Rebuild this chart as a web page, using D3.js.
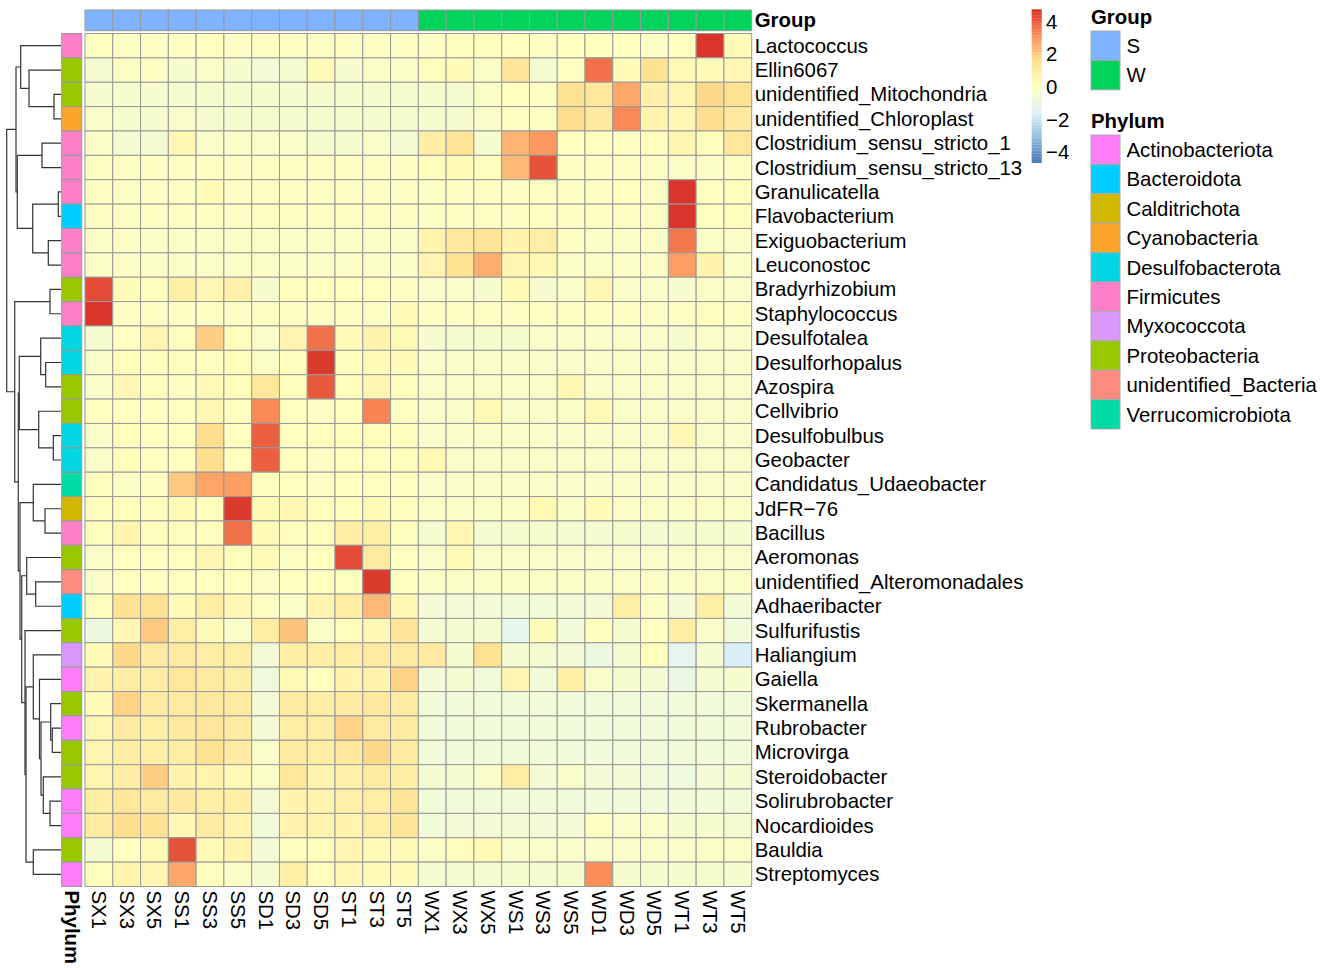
<!DOCTYPE html>
<html>
<head>
<meta charset="utf-8">
<script src="https://cdn.jsdelivr.net/npm/d3@7"></script>
<style>
  body { margin: 0; background: #fff; }
  text { font-family: "Liberation Sans", Arial, Helvetica, sans-serif; fill: #000; }
</style>
</head>
<body>
<div class="container"></div>
<script>
const WIDTH = 1325;
const HEIGHT = 968;
const HM_LEFT = 85;
const HM_RIGHT = 751.7;
const HM_TOP = 33.5;
const HM_BOTTOM = 886.5;
const FONT = 20.4;

var samples = ["SX1", "SX3", "SX5", "SS1", "SS3", "SS5", "SD1", "SD3", "SD5", "ST1", "ST3", "ST5",
    "WX1", "WX3", "WX5", "WS1", "WS3", "WS5", "WD1", "WD3", "WD5", "WT1", "WT3", "WT5"];
var groups = ["S", "S", "S", "S", "S", "S", "S", "S", "S", "S", "S", "S",
    "W", "W", "W", "W", "W", "W", "W", "W", "W", "W", "W", "W"];

var taxa = ["Lactococcus", "Ellin6067", "unidentified_Mitochondria", "unidentified_Chloroplast",
    "Clostridium_sensu_stricto_1", "Clostridium_sensu_stricto_13", "Granulicatella", "Flavobacterium",
    "Exiguobacterium", "Leuconostoc", "Bradyrhizobium", "Staphylococcus", "Desulfotalea",
    "Desulforhopalus", "Azospira", "Cellvibrio", "Desulfobulbus", "Geobacter",
    "Candidatus_Udaeobacter", "JdFR\u221276", "Bacillus", "Aeromonas", "unidentified_Alteromonadales",
    "Adhaeribacter", "Sulfurifustis", "Haliangium", "Gaiella", "Skermanella", "Rubrobacter",
    "Microvirga", "Steroidobacter", "Solirubrobacter", "Nocardioides", "Bauldia", "Streptomyces"];

var phyla = ["Firmicutes", "Proteobacteria", "Proteobacteria", "Cyanobacteria",
    "Firmicutes", "Firmicutes", "Firmicutes", "Bacteroidota",
    "Firmicutes", "Firmicutes", "Proteobacteria", "Firmicutes", "Desulfobacterota",
    "Desulfobacterota", "Proteobacteria", "Proteobacteria", "Desulfobacterota", "Desulfobacterota",
    "Verrucomicrobiota", "Calditrichota", "Firmicutes", "Proteobacteria", "unidentified_Bacteria",
    "Bacteroidota", "Proteobacteria", "Myxococcota", "Actinobacteriota", "Proteobacteria", "Actinobacteriota",
    "Proteobacteria", "Proteobacteria", "Actinobacteriota", "Actinobacteriota", "Proteobacteria", "Actinobacteriota"];

// row z-scores, columns in the order of samples
var values = [
    [0.0, -0.1, -0.1, -0.1, 0.0, -0.1, -0.1, -0.1, -0.1, -0.1, -0.1, -0.1, -0.1, 0.1, 0.1, 0.0, -0.1, 0.0, 0.0, 0.0, -0.1, 0.0, 4.6, 0.2],
    [-0.5, -0.1, -0.1, -0.4, -0.2, -0.4, -0.6, -0.5, 0.2, -0.4, -0.2, -0.2, 0.1, 0.2, -0.2, 1.3, -0.5, 0.0, 3.6, 0.2, 1.4, 0.3, 0.2, 0.4],
    [-0.4, -0.4, -0.4, -0.4, -0.4, -0.4, -0.4, -0.4, -0.4, -0.4, -0.4, -0.4, -0.4, -0.5, -0.2, 0.0, -0.1, 1.4, 1.2, 2.6, 0.7, 0.5, 1.7, 1.5],
    [-0.3, -0.4, -0.4, -0.3, -0.4, -0.4, -0.4, -0.4, -0.4, -0.4, -0.4, -0.4, -0.4, -0.4, -0.3, -0.1, -0.1, 1.6, 1.1, 3.2, 0.6, 0.4, 1.6, 1.1],
    [-0.2, -0.5, -0.5, 0.4, -0.3, -0.3, -0.3, -0.3, -0.4, -0.4, -0.3, -0.5, 0.9, 1.3, -0.4, 2.4, 2.9, 0.0, 0.0, -0.1, 0.1, 0.5, 0.1, 1.2],
    [-0.1, -0.1, -0.1, -0.1, -0.1, -0.1, -0.1, -0.1, -0.1, -0.1, -0.1, -0.1, 0.1, 0.2, 0.1, 2.3, 4.1, -0.1, -0.1, -0.1, -0.1, -0.2, -0.2, -0.1],
    [-0.1, -0.1, -0.1, -0.1, 0.2, -0.1, -0.1, -0.1, -0.1, -0.1, -0.1, -0.1, -0.1, -0.1, -0.1, -0.1, -0.1, -0.1, -0.1, 0.0, -0.1, 4.6, 0.0, 0.1],
    [-0.1, -0.1, -0.1, -0.1, -0.1, -0.1, -0.1, -0.1, -0.1, -0.1, -0.1, -0.1, -0.1, -0.1, -0.1, -0.1, -0.1, -0.1, -0.1, -0.1, -0.1, 4.6, 0.0, 0.1],
    [-0.2, -0.2, -0.2, -0.2, -0.2, -0.2, -0.2, -0.2, -0.2, -0.2, -0.2, -0.2, 0.6, 1.1, 1.3, 0.6, 0.9, -0.1, -0.2, -0.2, -0.2, 3.5, -0.2, -0.2],
    [-0.2, -0.2, -0.2, -0.2, -0.2, -0.2, -0.2, -0.2, -0.2, -0.2, -0.2, -0.2, 0.5, 1.5, 2.5, 0.5, 0.4, -0.2, -0.2, -0.2, -0.2, 2.8, 0.6, -0.2],
    [4.2, 0.2, 0.1, 0.8, 0.4, 0.7, -0.4, 0.1, 0.0, 0.0, 0.0, -0.1, -0.3, -0.3, -0.4, 0.3, -0.4, -0.3, 0.4, -0.3, -0.3, -0.4, -0.2, -0.3],
    [4.6, -0.1, -0.1, -0.1, -0.1, -0.1, -0.1, -0.1, -0.1, -0.1, -0.1, 0.2, -0.1, -0.1, -0.1, -0.1, -0.1, -0.1, -0.1, -0.1, -0.1, -0.1, 0.1, -0.1],
    [-0.4, 0.0, 0.5, 0.1, 1.9, 0.1, -0.3, 0.5, 3.6, 0.2, 0.6, 0.3, -0.4, -0.4, -0.4, -0.4, -0.3, -0.3, -0.3, -0.3, -0.3, -0.4, -0.3, -0.3],
    [-0.3, 0.1, 0.1, 0.1, 0.1, 0.1, -0.2, 0.1, 4.5, 0.1, 0.2, 0.2, -0.3, -0.3, -0.3, -0.3, -0.3, -0.3, -0.3, -0.3, -0.3, -0.3, -0.3, -0.3],
    [-0.3, 0.4, 0.1, -0.1, 0.3, 0.1, 1.2, 0.1, 4.0, 0.1, 0.5, 0.1, -0.3, -0.3, -0.3, -0.3, -0.3, 0.4, -0.3, -0.3, -0.3, -0.3, -0.3, -0.3],
    [0.0, 0.0, 0.0, 0.0, 0.4, 0.0, 3.2, 0.0, -0.1, 0.0, 3.3, 0.0, -0.3, -0.3, 0.3, -0.3, -0.3, -0.2, 0.3, -0.3, -0.3, -0.3, -0.3, -0.3],
    [-0.3, 0.1, 0.0, 0.0, 1.6, 0.0, 3.9, 0.0, 0.1, 0.1, 0.1, 0.1, -0.3, -0.3, -0.3, -0.3, -0.3, -0.3, -0.3, -0.3, -0.3, 0.4, -0.3, -0.3],
    [-0.3, 0.1, 0.0, 0.0, 1.6, 0.0, 3.9, 0.0, -0.1, 0.0, 0.0, 0.1, 0.3, -0.3, -0.3, -0.3, -0.3, -0.3, -0.3, -0.3, -0.3, -0.3, -0.3, -0.3],
    [0.1, -0.2, -0.1, 2.0, 2.7, 2.8, 0.1, 0.0, -0.1, 0.0, 0.0, 0.0, -0.3, -0.3, -0.3, -0.3, -0.3, -0.3, -0.3, -0.3, -0.3, -0.3, -0.3, -0.3],
    [0.1, 0.1, 0.1, 0.3, 0.1, 4.5, 0.2, 0.4, 0.1, 0.1, 0.2, 0.1, -0.2, -0.2, -0.2, -0.2, 0.3, -0.2, 0.2, -0.2, -0.2, -0.2, -0.2, -0.2],
    [0.1, 0.5, 0.1, 0.1, 0.1, 3.6, 0.2, 0.1, 0.1, 0.9, 0.8, 0.1, -0.5, 0.4, -0.5, -0.4, -0.4, -0.5, -0.5, -0.4, -0.5, -0.4, -0.4, -0.4],
    [-0.2, 0.0, 0.0, 0.0, 0.5, 0.1, 0.2, -0.1, 0.0, 4.2, 1.0, 0.0, -0.3, 0.3, -0.3, -0.3, -0.3, -0.3, -0.3, -0.3, -0.3, -0.3, -0.3, -0.3],
    [-0.3, 0.0, 0.0, 0.0, 0.0, 0.0, -0.2, 0.0, 0.0, 0.0, 4.5, 0.0, -0.2, -0.2, -0.2, -0.2, -0.2, -0.2, -0.2, -0.2, -0.2, -0.2, -0.2, -0.2],
    [0.1, 1.4, 1.5, 0.2, 0.9, 0.4, -0.1, -0.2, 0.5, 0.9, 2.3, 0.4, -0.6, -0.6, -0.6, -0.7, -0.7, -0.6, -0.6, 0.8, -0.2, -0.6, 0.8, -0.6],
    [-0.9, 0.4, 2.0, 0.8, 0.2, -0.3, 0.9, 2.1, -0.2, 0.1, 0.4, 1.3, -0.5, -0.5, -0.5, -1.2, 0.2, -0.7, 0.1, -0.4, 0.0, 0.9, -0.3, -0.7],
    [0.2, 1.7, 1.0, 1.0, 0.9, 0.9, -0.6, 0.9, 0.8, 0.9, 1.0, 1.0, 1.0, -0.4, 1.5, -0.5, -0.5, -0.6, -0.9, -0.5, 0.1, -1.3, -0.5, -1.7],
    [0.6, 0.9, 0.9, 1.2, 1.0, 0.9, -0.8, 0.3, 0.0, 0.6, 0.6, 1.8, -0.6, -0.5, -0.7, 0.5, -0.7, 0.8, -0.3, -0.4, -0.5, -1.0, -0.5, -0.4],
    [0.2, 1.8, 1.0, 1.0, 1.1, 1.0, -0.6, 1.0, 0.9, 1.0, 1.1, 1.0, -0.7, -0.7, -0.7, -0.7, -0.7, -0.7, -0.7, -0.7, -0.7, -0.7, -0.7, -0.7],
    [0.4, 1.0, 0.8, 1.1, 1.2, 1.0, -0.6, 0.9, 0.9, 1.8, 1.0, 1.0, -0.7, -0.7, -0.7, -0.7, -0.7, -0.7, -0.7, -0.7, -0.7, -0.7, -0.7, -0.7],
    [0.5, 0.9, 0.8, 0.9, 1.4, 1.0, -0.3, 1.0, 0.9, 1.1, 1.7, 1.0, -0.7, -0.7, -0.7, -0.7, -0.7, -0.7, -0.7, -0.7, -0.7, -0.7, -0.7, -0.7],
    [0.5, 0.9, 1.9, 0.6, 0.6, 0.3, -0.2, 1.2, 0.6, 0.7, 1.0, 0.9, -0.5, -0.5, -0.3, 0.9, -0.6, -0.3, -0.6, -0.6, -0.8, -0.8, -0.6, -0.5],
    [0.9, 1.2, 1.0, 1.1, 0.8, 0.8, -0.6, 0.6, 0.6, 0.7, 0.8, 1.3, -0.7, -0.7, -0.7, -0.7, -0.7, -0.7, -0.7, -0.7, -0.7, -0.7, -0.7, -0.7],
    [1.0, 1.6, 1.4, 0.4, 1.0, 0.6, -0.7, 0.6, 0.6, 0.6, 0.8, 1.3, -0.7, -0.6, -0.6, -0.6, -0.6, -0.6, -0.1, -0.3, -0.3, -0.4, -0.4, -0.5],
    [-0.5, 0.0, 0.3, 4.1, 0.3, 0.6, -0.6, 0.1, 0.1, 0.5, 0.2, 0.2, -0.2, 0.1, 0.3, -0.3, -0.3, -0.3, -0.3, -0.3, -0.3, -0.3, -0.2, -0.2],
    [0.1, 0.6, 0.5, 2.6, 0.1, -0.2, -0.5, 0.8, 0.1, 0.4, 0.2, 0.2, -0.5, -0.5, -0.5, -0.4, -0.5, -0.4, 3.1, -0.4, -0.4, -0.4, -0.4, -0.4]
];

// row dendrogram: [merge height, left, right], leaves are row indices
var rowTree =
    [54.3,
        [45,
            [40.3, 0, [32, 1, [7, 2, 3]]],
            [43.7, [19, 4, 5], [28.3, [2.7, 6, 7], [12.7, 8, 9]]]],
        [46.3,
            [11, 10, 11],
            [42.7,
                [41.7, [20.3, 12, [15.3, 13, 14]], [22.3, 15, [7.7, 16, 17]]],
                [41,
                    [27.7, 18, [16, 19, 20]],
                    [39.3,
                        [34.3, 21, [25.3, 22, 23]],
                        [36, 24,
                            [35,
                                [27.7, 25, [21.5, 26, [20, [10.3, 27, [8.7, 28, 29]], [17.7, 30, [11, 31, 32]]]]],
                                [27.7, 33, 34]]]]]]]];

var groupNames = ["S", "W"];
var groupColors = ["#7FB2FF", "#00D35B"];
var phylumNames = ["Actinobacteriota", "Bacteroidota", "Calditrichota", "Cyanobacteria", "Desulfobacterota",
    "Firmicutes", "Myxococcota", "Proteobacteria", "unidentified_Bacteria", "Verrucomicrobiota"];
var phylumColors = ["#FD7EF7", "#00CDFF", "#D2B700", "#F9A52A", "#00D6E2",
    "#FD7FC7", "#DA98FA", "#98C800", "#FD8B80", "#00DAA4"];

var paletteColors = ["#4575B4", "#91BFDB", "#E0F3F8", "#FFFFBF", "#FEE090", "#FC8D59", "#D73027"];
var legendTicks = [4, 2, 0, -2, -4];
const LIM = 4.69;

var drawChart = function () {
    var svg = d3.select(".container")
        .append("svg")
        .attr("width", WIDTH)
        .attr("height", HEIGHT);

    var xScale = d3.scaleBand()
        .domain(samples)
        .range([HM_LEFT, HM_RIGHT]);

    var yScale = d3.scaleBand()
        .domain(d3.range(taxa.length))
        .range([HM_TOP, HM_BOTTOM]);

    var color = d3.scaleLinear()
        .domain(paletteColors.map(function (c, i) { return -LIM + i * 2 * LIM / (paletteColors.length - 1); }))
        .range(paletteColors)
        .interpolate(d3.interpolateRgb);

    var groupColor = d3.scaleOrdinal().domain(groupNames).range(groupColors);
    var phylumColor = d3.scaleOrdinal().domain(phylumNames).range(phylumColors);

    // heatmap cells
    var cells = [];
    values.forEach(function (row, i) {
        row.forEach(function (v, j) {
            cells.push({ r: i, c: samples[j], v: v });
        });
    });

    svg.append("g")
        .selectAll("rect")
        .data(cells)
        .enter()
        .append("rect")
        .attr("x", function (d) { return xScale(d.c); })
        .attr("y", function (d) { return yScale(d.r); })
        .attr("width", xScale.bandwidth())
        .attr("height", yScale.bandwidth())
        .attr("fill", function (d) { return color(d.v); })
        .attr("stroke", "#999999")
        .attr("stroke-width", 1);

    // column annotation (Group)
    svg.append("g")
        .selectAll("rect")
        .data(samples)
        .enter()
        .append("rect")
        .attr("x", function (d) { return xScale(d); })
        .attr("y", 10)
        .attr("width", xScale.bandwidth())
        .attr("height", 20.7)
        .attr("fill", function (d, i) { return groupColor(groups[i]); })
        .attr("stroke", "#999999")
        .attr("stroke-width", 1);

    // row annotation (Phylum)
    svg.append("g")
        .selectAll("rect")
        .data(phyla)
        .enter()
        .append("rect")
        .attr("x", 61.7)
        .attr("y", function (d, i) { return yScale(i); })
        .attr("width", 20)
        .attr("height", yScale.bandwidth())
        .attr("fill", function (d) { return phylumColor(d); })
        .attr("stroke", "#999999")
        .attr("stroke-width", 1);

    // row labels
    svg.append("g")
        .selectAll("text")
        .data(taxa)
        .enter()
        .append("text")
        .attr("x", HM_RIGHT + 3)
        .attr("y", function (d, i) { return yScale(i) + yScale.bandwidth() / 2; })
        .attr("dominant-baseline", "central")
        .attr("font-size", FONT)
        .text(function (d) { return d; });

    // column labels
    svg.append("g")
        .selectAll("text")
        .data(samples)
        .enter()
        .append("text")
        .attr("transform", function (d) {
            return "translate(" + (xScale(d) + xScale.bandwidth() / 2) + "," + (HM_BOTTOM + 4) + ") rotate(90)";
        })
        .attr("dominant-baseline", "central")
        .attr("font-size", FONT)
        .text(function (d) { return d; });

    svg.append("text")
        .attr("transform", "translate(71.7," + (HM_BOTTOM + 4) + ") rotate(90)")
        .attr("dominant-baseline", "central")
        .attr("font-size", FONT)
        .attr("font-weight", "bold")
        .text("Phylum");

    svg.append("text")
        .attr("x", HM_RIGHT + 3)
        .attr("y", 20.4)
        .attr("dominant-baseline", "central")
        .attr("font-size", FONT)
        .attr("font-weight", "bold")
        .text("Group");

    // dendrogram
    var hScale = d3.scaleLinear()
        .domain([0, rowTree[0]])
        .range([61, 6.7]);
    var tree = svg.append("g")
        .attr("stroke", "#333")
        .attr("stroke-width", 1.2)
        .attr("fill", "none");

    var layout = function (node) {
        if (typeof node === "number") {
            return { x: hScale(0), y: yScale(node) + yScale.bandwidth() / 2 };
        }
        var a = layout(node[1]);
        var b = layout(node[2]);
        var x = hScale(node[0]);
        tree.append("path")
            .attr("d", "M" + a.x + "," + a.y + "H" + x + "V" + b.y + "H" + b.x);
        return { x: x, y: (a.y + b.y) / 2 };
    };
    layout(rowTree);

    // colour key
    var keyScale = d3.scaleLinear()
        .domain([-LIM, LIM])
        .range([162.7, 9.3]);
    var step = 2 * LIM / 100;
    var steps = d3.range(100).map(function (i) { return -LIM + (i + 0.5) * step; });
    svg.append("g")
        .selectAll("rect")
        .data(steps)
        .enter()
        .append("rect")
        .attr("x", 1031.7)
        .attr("y", function (d) { return keyScale(d + step / 2); })
        .attr("width", 10)
        .attr("height", keyScale(0) - keyScale(step) + 0.3)
        .attr("fill", function (d) { return color(d); });

    svg.append("g")
        .selectAll("text")
        .data(legendTicks)
        .enter()
        .append("text")
        .attr("x", 1046)
        .attr("y", function (d) { return keyScale(d) + 1; })
        .attr("dominant-baseline", "central")
        .attr("font-size", FONT)
        .text(function (d) { return d < 0 ? "\u2212" + Math.abs(d) : d; });

    // legends for annotations
    var drawLegend = function (title, names, scale, top) {
        var g = svg.append("g");
        g.append("text")
            .attr("x", 1091)
            .attr("y", top - 14)
            .attr("dominant-baseline", "central")
            .attr("font-size", FONT)
            .attr("font-weight", "bold")
            .text(title);
        g.selectAll("rect")
            .data(names)
            .enter()
            .append("rect")
            .attr("x", 1091)
            .attr("y", function (d, i) { return top + i * 29.4; })
            .attr("width", 29)
            .attr("height", 29.4)
            .attr("fill", function (d) { return scale(d); })
            .attr("stroke", "#aaaaaa")
            .attr("stroke-width", 1);
        g.selectAll(".lab")
            .data(names)
            .enter()
            .append("text")
            .attr("x", 1126.5)
            .attr("y", function (d, i) { return top + i * 29.4 + 15; })
            .attr("dominant-baseline", "central")
            .attr("font-size", FONT)
            .text(function (d) { return d; });
    };
    drawLegend("Group", groupNames, groupColor, 31);
    drawLegend("Phylum", phylumNames, phylumColor, 135);
};

window.onload = function () {
    drawChart();
};
</script>
</body>
</html>
